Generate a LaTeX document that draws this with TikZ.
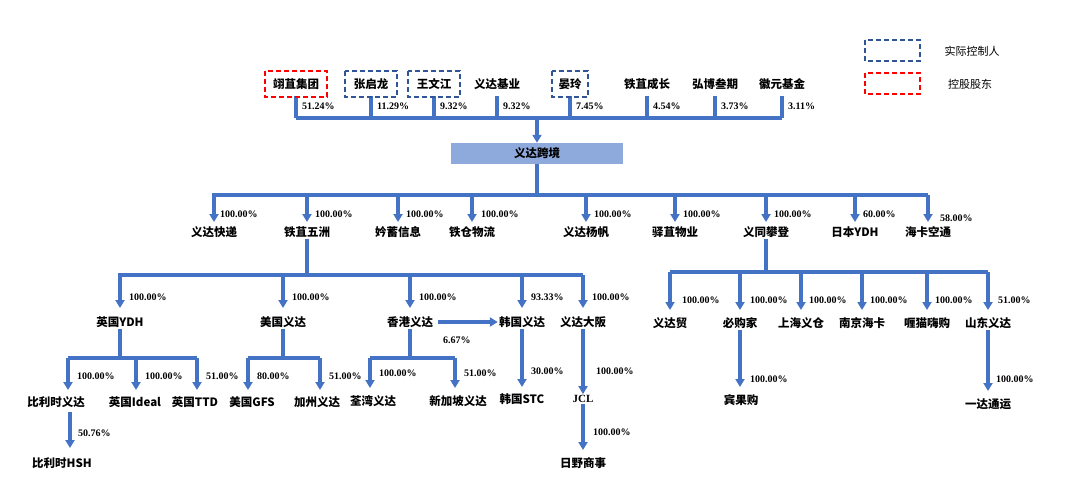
\documentclass[tikz,border=0pt]{standalone}
\usepackage{fontspec}
\setmainfont{Liberation Serif}
\newfontfamily\cjk{Noto Sans CJK SC}
\usetikzlibrary{arrows.meta}
\definecolor{lb}{HTML}{4472C4}
\definecolor{db}{HTML}{2F5597}
\definecolor{bx}{HTML}{8EA9DB}
\tikzset{x=1pt,y=-1pt,
 lab/.style={font=\cjk\fontsize{11.5}{12}\selectfont\bfseries,inner sep=1pt},
 pct/.style={font=\fontsize{10}{10}\selectfont\bfseries,inner sep=0pt,anchor=west},
 ln/.style={draw=lb,line width=3.2pt},
 ar/.style={ln,-{Triangle[length=8pt,width=9pt]}},
 dbl/.style={draw=db,line width=1.4pt,dash pattern=on 5pt off 3pt},
 dred/.style={draw=red,line width=1.4pt,dash pattern=on 5pt off 3pt}}
\begin{document}
\begin{tikzpicture}
\useasboundingbox (0,0) rectangle (1080,499);
% legend
\draw[dbl] (865,40) rectangle (920,61);
\draw[dred] (865,73) rectangle (920,94);
\node[lab,font=\cjk\fontsize{11}{11}\selectfont] (lg1) at (972,51) {实际控制人};
\node[lab,font=\cjk\fontsize{11}{11}\selectfont] (lg2) at (970,84) {控股股东};
% shareholders
\foreach \n/\x/\t/\p in {s1/296/翊苴集团/51.24\%, s2/371/张启龙/11.29\%, s3/434/王文江/9.32\%, s4/497/义达基业/9.32\%, s5/570/晏玲/7.45\%, s6/647/铁苴成长/4.54\%, s7/715/弘博叁期/3.73\%, s8/782/徽元基金/3.11\%}{
 \node[lab] (\n) at (\x,84) {\t};
 \draw[ln] (\x,96) -- (\x,118);
 \node[pct] (\n p) at (\x+6,106) {\p};
}
\draw[dred] (265,71) rectangle (327,97);
\draw[dbl] (345,71) rectangle (397,97);
\draw[dbl] (408,71) rectangle (460,97);
\draw[dbl] (552,71) rectangle (588,97);
\coordinate (top) at (537,118);
\draw[ln] (296,118) -- (782,118);
\node[fill=bx,minimum width=172pt,minimum height=21pt,inner sep=0pt,lab] (yd) at (537,153.5) {义达跨境};
\draw[ar] (top) -- (yd.north);
% level 1
\coordinate (j1) at (537,195);
\draw[ln] (yd.south) -- (j1);
\draw[ln] (212,195) -- (928,195);
\foreach \n/\x/\t/\p in {a1/214/义达快递/100.00\%, a2/307/铁苴五洲/100.00\%, a3/398/妗蓄信息/100.00\%, a4/472/铁仓物流/100.00\%, a5/586/义达杨帆/100.00\%, a6/675/驿苴物业/100.00\%, a7/766/义同攀登/100.00\%, a8/855/日本YDH/60.00\%, a9/928/海卡空通/58.00\%}{
 \node[lab] (\n) at (\x,232) {\t};
 \draw[ar] (\x,195) -- (\x,222);
}
\foreach \n/\x/\p in {a1/212/100.00\%, a2/307/100.00\%, a3/398/100.00\%, a4/473/100.00\%, a5/586/100.00\%, a6/675/100.00\%, a7/766/100.00\%, a8/855/60.00\%}{\node[pct] (\n p) at (\x+8,214) {\p};}
\node[pct] (a9p) at (940,218) {58.00\%};
% 铁苴五洲 subtree
\draw[ln] (a2.south) -- (307,275);
\draw[ln] (118,275) -- (583,275);
\foreach \n/\x/\t/\p in {b1/120/英国YDH/100.00\%, b2/283/美国义达/100.00\%, b3/410/香港义达/100.00\%, b4/522/韩国义达/93.33\%, b5/583/义达大阪/100.00\%}{
 \draw[ar] (\x,275) -- (\x,308);
 \node[lab] (\n) at (\x,322) {\t};
 \node[pct] (\n p) at (\x+9,297) {\p};
}
\draw[ar] (b3.east) ++(4,0) -- (b4.west);
\node[pct] (hk) at (443,340) {6.67\%};
% 英国YDH
\draw[ln] (b1.south) -- (120,358); \draw[ln] (68,358) -- (197,358);
\foreach \n/\x/\t/\p/\lx in {c1/68/比利时义达/100.00\%/56, c2/136/英国Ideal/100.00\%/135, c3/197/英国TTD/51.00\%/195}{
 \draw[ar] (\x,358) -- (\x,390);
 \node[lab] (\n) at (\lx,402) {\t};
 \node[pct] (\n p) at (\x+9,376) {\p};
}
\draw[ar] (70,412) -- (70,448);
\node[lab] (c4) at (62,463) {比利时HSH};
\node[pct] (c4p) at (78,433) {50.76\%};
% 美国义达
\draw[ln] (b2.south) -- (283,358); \draw[ln] (248,358) -- (320,358);
\foreach \n/\x/\t/\p/\lx in {d1/248/美国GFS/80.00\%/252, d2/320/加州义达/51.00\%/317}{
 \draw[ar] (\x,358) -- (\x,390);
 \node[lab] (\n) at (\lx,402) {\t};
 \node[pct] (\n p) at (\x+9,376) {\p};
}
% 香港义达
\draw[ln] (b3.south) -- (410,358); \draw[ln] (370,358) -- (455,358);
\foreach \n/\x/\t/\p/\lx in {e1/370/荃湾义达/100.00\%/373, e2/455/新加坡义达/51.00\%/458}{
 \draw[ar] (\x,358) -- (\x,388);
 \node[lab] (\n) at (\lx,401) {\t};
 \node[pct] (\n p) at (\x+9,373) {\p};
}
% 韩国义达
\node[lab] (f1) at (522,399) {韩国STC};
\draw[ar] (b4.south) -- (522,387);
\node[pct] (f1p) at (531,371) {30.00\%};
% 义达大阪
\node[lab,font=\fontsize{11}{11}\selectfont\bfseries] (g1) at (583,399) {JCL};
\draw[ar] (b5.south) -- (g1.north);
\node[pct] (g1p) at (596,371) {100.00\%};
\node[lab] (g2) at (583,463) {日野商事};
\draw[ar] (g1.south) -- (583,450);
\node[pct] (g2p) at (593,432) {100.00\%};
% 义同攀登 subtree
\draw[ln] (a7.south) -- (766,272); \draw[ln] (670,272) -- (988,272);
\foreach \n/\x/\t/\p/\px in {h1/670/义达贸/100.00\%/682, h2/740/必购家/100.00\%/750, h3/801/上海义仓/100.00\%/809, h4/862/南京海卡/100.00\%/870, h5/927/喱猫嗨购/100.00\%/935, h6/988/山东义达/51.00\%/998}{
 \draw[ar] (\x,272) -- (\x,310);
 \node[lab] (\n) at (\x,323) {\t};
 \node[pct] (\n p) at (\px,300) {\p};
}
\node[lab] (h7) at (741,400) {宾果购};
\draw[ar] (h2.south) -- (740,387);
\node[pct] (h7p) at (750,379) {100.00\%};
\node[lab] (h8) at (988,404) {一达通运};
\draw[ar] (h6.south) -- (988,391);
\node[pct] (h8p) at (996,379) {100.00\%};
\end{tikzpicture}
\end{document}
